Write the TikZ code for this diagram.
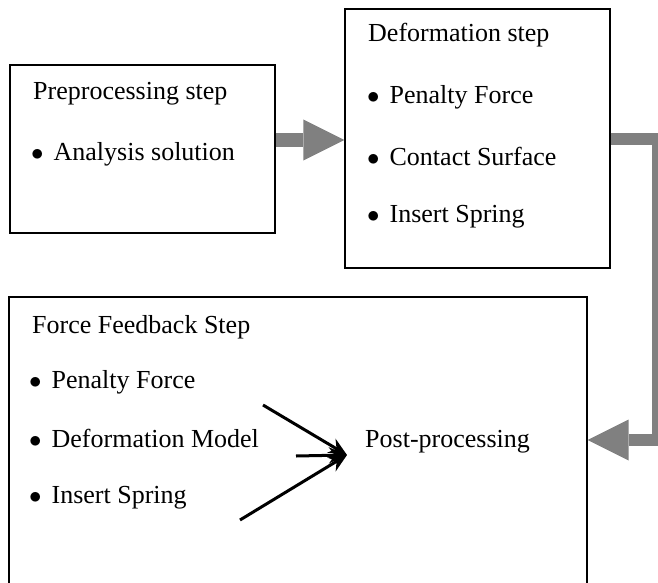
\documentclass[tikz,border=0pt]{standalone}
\usepackage{fontspec}
\setmainfont{Liberation Serif}
\usetikzlibrary{positioning, arrows.meta, calc}
\definecolor{flowgray}{RGB}{128,128,128}

\begin{document}
\begin{tikzpicture}[x=1pt, y=-1pt,
  stepbox/.style={draw, line width=1.2pt, inner sep=0pt},
  txt/.style={anchor=base west, inner sep=0pt, font=\fontsize{26}{30}\selectfont},
  fatarrow/.style={draw=flowgray, line width=14pt, -{Triangle[length=41pt, width=41pt, line width=0pt]}},
  thinarrow/.style={line width=3pt, -{Stealth[length=18pt, width=16pt]}}]
  \useasboundingbox (0,0) rectangle (658,583);

  % Preprocessing step
  \node[stepbox, minimum width=265pt, minimum height=168pt] (pre) at (142.5,149) {};
  \node[txt] (pretitle) at (33,100) {Preprocessing step};
  \node[txt] (pre1) at (31,160) {$\bullet$\hspace{10pt}Analysis solution};

  % Deformation step
  \node[stepbox, minimum width=265pt, minimum height=259pt] (def) at (477.5,138.5) {};
  \node[txt] (deftitle) at (368,42) {Deformation step};
  \node[txt] (def1) at (367,103) {$\bullet$\hspace{10pt}Penalty Force};
  \node[txt] (def2) at (367,165) {$\bullet$\hspace{10pt}Contact Surface};
  \node[txt] (def3) at (367,222) {$\bullet$\hspace{10pt}Insert Spring};

  % Force Feedback Step
  \node[stepbox, minimum width=578pt, minimum height=343pt] (fb) at (298,468.5) {};
  \node[txt] (fbtitle) at (32,333) {Force Feedback Step};
  \node[txt] (fb1) at (29,388) {$\bullet$\hspace{10pt}Penalty Force};
  \node[txt] (fb2) at (29,447) {$\bullet$\hspace{10pt}Deformation Model};
  \node[txt] (fb3) at (29,503) {$\bullet$\hspace{10pt}Insert Spring};
  \node[txt] (post) at (365,447) {Post-processing};

  % gathering arrows
  \coordinate (hub) at (347,455);
  \coordinate (in1) at (263,405);
  \coordinate (in2) at (296,456);
  \coordinate (in3) at (240,520);
  \draw[thinarrow] (in1) -- (hub);
  \draw[thinarrow] (in2) -- (hub);
  \draw[thinarrow] (in3) -- (hub);

  % flow between steps
  \coordinate (rim) at (658,440);
  \draw[fatarrow] ([yshift=9pt]pre.east) -- ([yshift=9pt]pre.east -| def.west);
  \draw[fatarrow, line width=12pt] (def.east) -| (rim) -- (rim -| fb.east);
\end{tikzpicture}
\end{document}
